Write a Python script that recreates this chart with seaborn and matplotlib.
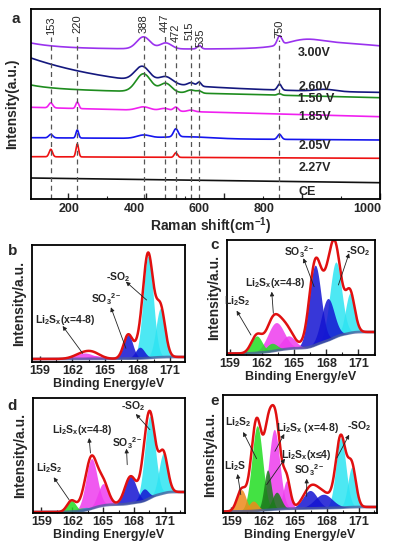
import numpy as np
import matplotlib
matplotlib.use("Agg")
import matplotlib.pyplot as plt
from matplotlib.ticker import MultipleLocator
import matplotlib.transforms as mtransforms
import seaborn as sns

sns.set_style("ticks")
plt.rcParams.update({
    "font.family": ["Liberation Sans", "DejaVu Sans"],
    "font.weight": "bold",
    "axes.labelweight": "bold",
    "mathtext.fontset": "custom",
    "mathtext.rm": "Liberation Sans:bold",
    "mathtext.bf": "Liberation Sans:bold",
    "mathtext.it": "Liberation Sans:bold",
    "mathtext.default": "rm",
    "axes.linewidth": 1.3,
    "axes.edgecolor": "black",
})

# ---------------- Raman (panel a) ----------------
RAMAN_NAMES = ["CE", "2.27V", "2.05V", "1.85V", "1.50 V", "2.60V", "3.00V"]
RAMAN_COLORS = ["#111111", "#EE1111", "#1515EE", "#F020F0", "#1E8C1E", "#14187E", "#9A32EE"]
RAMAN_BASE_LEFT = [21.0, 42.3, 61.3, 91.7, 110.0, 108.0, 150.0]
RAMAN_BASE_RIGHT = [16.3, 40.7, 59.0, 82.3, 101.3, 105.7, 150.0]
RAMAN_RISE = [0.0, 0.0, 0.0, 0.0, 4.0, 33.0, 6.0]
RAMAN_RISE_LEN = [1.0, 1.0, 1.0, 1.0, 60.0, 250.0, 80.0]
# (centre cm-1, height, fwhm)
PEAKS_CE = []
PEAKS_227 = [(155, 7.5, 10), (223, 13, 8), (476, 4.5, 10)]
PEAKS_205 = [(155, 3.5, 12), (223, 8, 8), (393, 3, 40), (476, 8, 14), (742, 5, 12), (500, 2, 150)]
PEAKS_185 = [(155, 5, 12), (223, 6.5, 9), (393, 3.5, 40), (447, 2.5, 30), (476, 4, 14), (515, 1.5, 20)]
PEAKS_150 = [(393, 18, 45), (450, 9, 35), (515, 3, 25), (536, 2, 15), (742, 1.5, 12)]
PEAKS_260 = [(390, 15, 45), (450, 7, 40), (515, 3, 20), (536, 4, 12), (742, 6, 12), (860, 2, 60)]
PEAKS_300 = [(393, 12, 40), (450, 6, 35), (536, 3.5, 12), (742, 9, 14), (805, 5, 100), (880, 6, 250)]
RAMAN_PEAKS = [PEAKS_CE, PEAKS_227, PEAKS_205, PEAKS_185, PEAKS_150, PEAKS_260, PEAKS_300]
RAMAN_LABEL_Y = [7, 31, 53, 82, 100, 112, 146]

BAND_TEXT = ["153", "220", "388", "447", "472", "515", "535", "750"]
BAND_POS = [154.8, 223.1, 393.2, 447.1, 476.4, 514.9, 536.2, 741.9]
BAND_TEXT_X = [154.8, 223.1, 393.2, 447.1, 476.4, 511.5, 540.5, 741.9]
BAND_TEXT_Y = [164, 165.7, 166, 167.3, 157.3, 159, 152.3, 160.7]

RAMAN_TICKS = [200, 400, 600, 800, 1000]
RAMAN_TICK_TEXT_X = [201.8, 368.6, 535.5, 702.4, 966.8]

# ---------------- XPS (panels b-e) ----------------
CYAN, BLUE, MAG = "#2EE4F2", "#1414D2", "#EE3CEE"
GREEN, DKGREEN, ORANGE, STEEL = "#22DD22", "#1B7A1B", "#EE8A1A", "#3C8CD0"

B_CENTER = [169.0, 170.14, 167.15, 168.23, 163.1, 164.0]
B_HEIGHT = [102, 49, 24, 11.3, 6, 3.5]
B_FWHM = [1.1, 1.0, 1.0, 1.0, 2.0, 1.6]
B_COLOR = [CYAN, CYAN, BLUE, BLUE, MAG, MAG]
B_BASE = (3.0, 5.0)

C_CENTER = [168.88, 170.22, 166.95, 168.13, 163.3, 164.45, 161.49, 162.9]
C_HEIGHT = [75, 40, 80, 42, 28, 13, 17, 8]
C_FWHM = [1.3, 1.0, 1.3, 1.4, 1.8, 1.5, 1.2, 1.2]
C_COLOR = [CYAN, CYAN, BLUE, BLUE, MAG, MAG, GREEN, GREEN]
C_BASE = (1.5, 23.0)

D_CENTER = [169.54, 170.84, 167.66, 168.96, 163.87, 165.0, 161.92, 162.9, 163.2]
D_HEIGHT = [82, 40, 27, 12, 50, 22, 11, 3, 3]
D_FWHM = [1.2, 1.0, 1.3, 1.0, 1.3, 1.2, 1.0, 1.0, 1.0]
D_COLOR = [CYAN, CYAN, BLUE, BLUE, MAG, MAG, GREEN, GREEN, STEEL]
D_BASE = (1.0, 21.0)

E_CENTER = [169.33, 170.37, 166.42, 167.68, 163.04, 164.21, 161.43, 162.41, 163.26, 159.95, 161.05]
E_HEIGHT = [70, 40, 18, 14, 80, 28, 85, 40, 17, 21.7, 10]
E_FWHM = [1.1, 0.9, 1.6, 2.0, 1.2, 0.8, 1.2, 0.8, 1.0, 1.0, 1.0]
E_COLOR = [CYAN, CYAN, BLUE, BLUE, MAG, MAG, GREEN, DKGREEN, DKGREEN, ORANGE, ORANGE]
E_BASE = (1.5, 6.0)

# label, text x/y, arrow head x/y, arrow tail x/y
B_NOTES = [("-SO$_2$", 166.26, 84.7, 166.94, 80.3, 168.85, 62),
           ("SO$_3$$^{2-}$", 165.15, 63, 165.55, 54.7, 166.94, 13.7),
           ("Li$_2$S$_x$(x=4-8)", 161.28, 42, 161.09, 36, 162.94, 8.7)]
C_NOTES = [("SO$_3$$^{2-}$", 165.48, 102.7, 165.86, 96.7, 166.86, 68.3),
           ("-SO$_2$", 171.0, 104.3, 170.13, 101.7, 169.13, 70),
           ("Li$_2$S$_x$(x=4-8)", 163.18, 71.7, 162.9, 63.3, 163.05, 41.7),
           ("Li$_2$S$_2$", 159.65, 54, 159.62, 44.3, 160.96, 20)]
D_NOTES = [("-SO$_2$", 167.92, 107.3, 168.18, 99, 169.54, 83.3),
           ("SO$_3$$^{2-}$", 167.34, 70.3, 167.27, 64.3, 167.34, 48.3),
           ("Li$_2$S$_x$(x=4-8)", 162.99, 83, 163.64, 75, 163.77, 60),
           ("Li$_2$S$_2$", 159.81, 45, 160.2, 35.7, 161.69, 13.3)]
E_NOTES = [("Li$_2$S$_2$", 159.63, 90.7, 160.1, 81, 161.37, 54.3),
           ("Li$_2$S", 159.38, 46.7, 159.57, 39, 159.88, 18.3),
           ("Li$_2$S$_x$ (x=4-8)", 166.2, 85, 163.99, 79, 163.1, 61.7),
           ("-SO$_2$", 171.06, 86.7, 170.11, 78.3, 168.95, 55),
           ("Li$_2$S$_x$(x≤4)", 166.1, 58.3, 164.05, 54.3, 162.32, 28.3),
           ("SO$_3$$^{2-}$", 166.33, 42.7, 166.1, 34.3, 166.1, 16.7)]

XPS_TICKS = [159, 162, 165, 168, 171]


def gauss(x, c, h, w):
    s = w / 2.3548
    return h * np.exp(-0.5 * ((x - c) / s) ** 2)


W, H = 396, 550
fig = plt.figure(figsize=(W / 100, H / 100), dpi=100)


def px_axes(l, t, r, b):
    return fig.add_axes([l / W, 1 - b / H, (r - l) / W, (b - t) / H])


# ---- a) Raman ----
ax = px_axes(31, 9, 380, 199)
x = np.linspace(104.2, 1000, 1800)
for i, name in enumerate(RAMAN_NAMES):
    y = RAMAN_BASE_LEFT[i] + (RAMAN_BASE_RIGHT[i] - RAMAN_BASE_LEFT[i]) * (x - x[0]) / (x[-1] - x[0])
    y = y + RAMAN_RISE[i] * np.exp(-(x - x[0]) / RAMAN_RISE_LEN[i])
    for c, h, w in RAMAN_PEAKS[i]:
        y = y + gauss(x, c, h, w)
    sns.lineplot(x=x, y=y, ax=ax, color=RAMAN_COLORS[i], lw=1.2)
    ax.text(790, RAMAN_LABEL_Y[i], name, fontsize=9, fontweight="bold", va="center", ha="left")
for t, p, tx, ty in zip(BAND_TEXT, BAND_POS, BAND_TEXT_X, BAND_TEXT_Y):
    ax.plot([p, p], [0, ty - 2], ls=(0, (4, 3)), color="#555555", lw=0.9)
    ax.text(tx, ty, t, rotation=90, ha="center", va="bottom", fontsize=8, fontweight="normal")
ax.set_xlim(104.2, 1000)
ax.set_ylim(0, 190)
ax.set_yticks([])
ax.set_xticks(RAMAN_TICKS)
ax.set_xticklabels([])
ax.xaxis.set_minor_locator(MultipleLocator(100))
ax.tick_params(axis="x", which="both", direction="in", top=False)
ax.tick_params(axis="x", which="major", length=4, width=1.0)
ax.tick_params(axis="x", which="minor", length=2.5, width=0.8)
tr = mtransforms.blended_transform_factory(ax.transData, ax.transAxes)
for v, tx in zip(RAMAN_TICKS, RAMAN_TICK_TEXT_X):
    ax.text(tx, -0.02, str(v), transform=tr, ha="center", va="top", fontsize=9, fontweight="bold")
ax.set_xlabel("Raman shift(cm$^{-1}$)", fontsize=10, fontweight="bold")
ax.xaxis.set_label_coords(0.516, -0.088)
ax.set_ylabel("Intensity(a.u.)", fontsize=10, fontweight="bold")
ax.yaxis.set_label_coords(-0.035, 0.5)
for s in ax.spines.values():
    s.set_visible(True)
    s.set_linewidth(1.3)
fig.text(16 / W, 1 - 19 / H, "a", fontsize=11, fontweight="bold", ha="center", va="center")


# ---- b-e) XPS ----
def xps_panel(box, xlim, ylim, centers, heights, fwhms, colors, base, notes, letter, letter_xy, ylab_x):
    ax = px_axes(*box)
    e = np.linspace(xlim[0], xlim[1], 800)
    comps = [gauss(e, c, h, w) for c, h, w in zip(centers, heights, fwhms)]
    total = np.sum(comps, axis=0)
    frac = np.cumsum(total)
    frac = frac / frac[-1]
    bg = base[0] + (base[1] - base[0]) * frac
    for comp, col in zip(comps, colors):
        ax.fill_between(e, bg, bg + comp, color=col, alpha=0.85, lw=0)
    sns.lineplot(x=e, y=bg, ax=ax, color="#4A5C9C", lw=2.0, alpha=0.75)
    sns.lineplot(x=e, y=bg + total, ax=ax, color="#E01010", lw=1.8)
    for txt, tx, ty, hx, hy, sx, sy in notes:
        ax.text(tx, ty, txt, ha="center", va="center", fontsize=7.5, fontweight="bold")
        ax.annotate("", xy=(hx, hy), xytext=(sx, sy),
                    arrowprops=dict(arrowstyle="-|>", color="#222222", lw=0.6,
                                    mutation_scale=6, shrinkA=0, shrinkB=0))
    ax.set_xlim(*xlim)
    ax.set_ylim(0, ylim)
    ax.set_yticks([])
    ax.set_xticks(XPS_TICKS)
    ax.set_xticklabels([str(t) for t in XPS_TICKS], fontsize=9, fontweight="bold")
    ax.xaxis.set_minor_locator(MultipleLocator(1.5))
    ax.tick_params(axis="x", which="both", direction="in", top=False, pad=2)
    ax.tick_params(axis="x", which="major", length=4, width=1.0)
    ax.tick_params(axis="x", which="minor", length=2.5, width=0.8)
    ax.set_xlabel("Binding Energy/eV", fontsize=9, fontweight="bold", labelpad=1)
    ax.set_ylabel("Intensity/a.u.", fontsize=10, fontweight="bold")
    ax.yaxis.set_label_coords(ylab_x, 0.5)
    for s in ax.spines.values():
        s.set_visible(True)
        s.set_linewidth(1.3)
    fig.text(letter_xy[0] / W, 1 - letter_xy[1] / H, letter, fontsize=11,
             fontweight="bold", ha="center", va="center")
    return ax


xps_panel((32, 245, 185, 362), (158.26, 172.4), 117, B_CENTER, B_HEIGHT, B_FWHM, B_COLOR,
          B_BASE, B_NOTES, "b", (13, 251), -0.04)
xps_panel((227, 240, 375, 355), (158.72, 172.55), 115, C_CENTER, C_HEIGHT, C_FWHM, C_COLOR,
          C_BASE, C_NOTES, "c", (215, 245), -0.04)
xps_panel((33, 398, 185, 513), (158.19, 172.95), 115, D_CENTER, D_HEIGHT, D_FWHM, D_COLOR,
          D_BASE, D_NOTES, "d", (12, 406), -0.04)
xps_panel((223, 395, 377, 513), (158.2, 172.74), 118, E_CENTER, E_HEIGHT, E_FWHM, E_COLOR,
          E_BASE, E_NOTES, "e", (215, 401), -0.04)

fig.savefig("out.png", dpi=100)
